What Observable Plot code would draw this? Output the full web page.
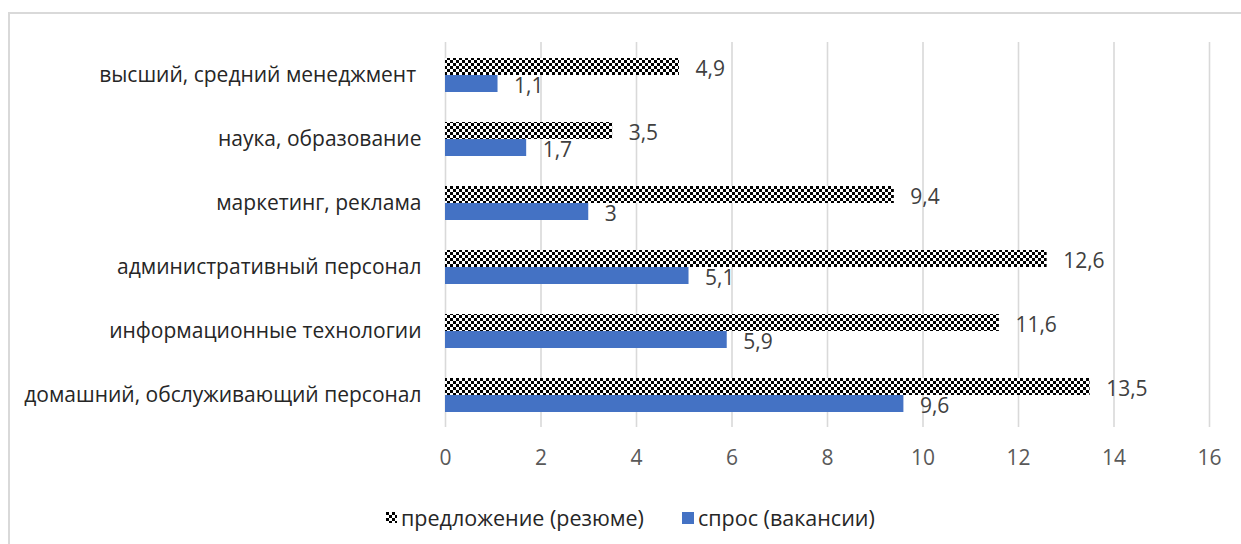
<!DOCTYPE html>
<html><head><meta charset="utf-8">
<script src="https://cdn.jsdelivr.net/npm/d3@7"></script>
<script src="https://cdn.jsdelivr.net/npm/@observablehq/plot@0.6"></script>
<style>
html,body{margin:0;padding:0;background:#fff;overflow:hidden;width:1241px;height:544px;}
#frame{position:absolute;left:8px;top:12px;width:1260px;height:560px;border:2px solid #d9d9d9;box-sizing:border-box;}
#chart{position:absolute;left:0;top:0;}
#legend{position:absolute;left:386px;top:503px;display:flex;align-items:center;font-family:"Open Sans";font-size:21.5px;color:#262626;white-space:nowrap;}
#legend .item{display:flex;align-items:center;}
#legend svg{display:block;margin-right:4px;}
svg text{white-space:pre;}
</style></head>
<body>
<div id="frame"></div>
<div id="chart"></div>
<div id="legend"></div>
<script>
const categories = [
  "высший, средний менеджмент ",
  "наука, образование",
  "маркетинг, реклама",
  "административный персонал",
  "информационные технологии",
  "домашний, обслуживающий персонал"
];
const supply = [4.9, 3.5, 9.4, 12.6, 11.6, 13.5];   // предложение (резюме)
const demand = [1.1, 1.7, 3, 5.1, 5.9, 9.6];         // спрос (вакансии)
const seriesNames = ["предложение (резюме)", "спрос (вакансии)"];
const xTicks = [0, 2, 4, 6, 8, 10, 12, 14, 16];

const BLUE = "#4472C4";
const fmt = v => String(v).replace(".", ",");

const supplyData = categories.map((c, i) => ({cat: c, value: supply[i]}));
const demandData = categories.map((c, i) => ({cat: c, value: demand[i]}));

const patternDef = () => {
  const svgNS = "http://www.w3.org/2000/svg";
  const g = document.createElementNS(svgNS, "g");
  g.innerHTML = `<defs><pattern id="checker" patternUnits="userSpaceOnUse" width="6" height="6">
    <rect width="6" height="6" fill="#fff"/>
    <rect x="0" y="0" width="3" height="3" fill="#000"/>
    <rect x="3" y="3" width="3" height="3" fill="#000"/>
  </pattern></defs>`;
  return g;
};

const chart = Plot.plot({
  width: 1241,
  height: 480,
  marginLeft: 445,
  marginRight: 32,
  marginTop: 42,
  marginBottom: 53,
  style: {fontFamily: "Open Sans", fontSize: "21px", background: "transparent", color: "#262626"},
  x: {domain: [0, 16], axis: null},
  y: {domain: categories, paddingInner: 0.47, paddingOuter: 0.235, axis: null},
  marks: [
    patternDef,
    Plot.gridX(xTicks, {stroke: "#d9d9d9", strokeOpacity: 1, strokeWidth: 1.6}),
    Plot.barX(supplyData, {y: "cat", x: "value", fill: "url(#checker)", insetBottom: 17}),
    Plot.barX(demandData, {y: "cat", x: "value", fill: BLUE, insetTop: 17}),
    Plot.text(supplyData, {y: "cat", x: "value", text: d => fmt(d.value), textAnchor: "start", dx: 16, dy: -6.5, fill: "#404040"}),
    Plot.text(demandData, {y: "cat", x: "value", text: d => fmt(d.value), textAnchor: "start", dx: 16, dy: 10.5, fill: "#404040"}),
    Plot.axisX(xTicks, {tickSize: 0, tickPadding: 23, fill: "#595959", tickFormat: d => String(d), label: null}),
    Plot.axisY({tickSize: 0, tickPadding: 24, fill: "#262626", label: null})
  ]
});
document.getElementById("chart").appendChild(chart);

// legend
const legend = document.getElementById("legend");
legend.innerHTML = `
  <div class="item"><svg width="11" height="11"><rect width="11" height="11" fill="url(#checker)"/></svg><span>${seriesNames[0]}</span></div>
  <div class="item" style="margin-left:38px"><svg width="12" height="12"><rect width="12" height="12" fill="${BLUE}"/></svg><span>${seriesNames[1]}</span></div>`;
</script>
</body></html>
